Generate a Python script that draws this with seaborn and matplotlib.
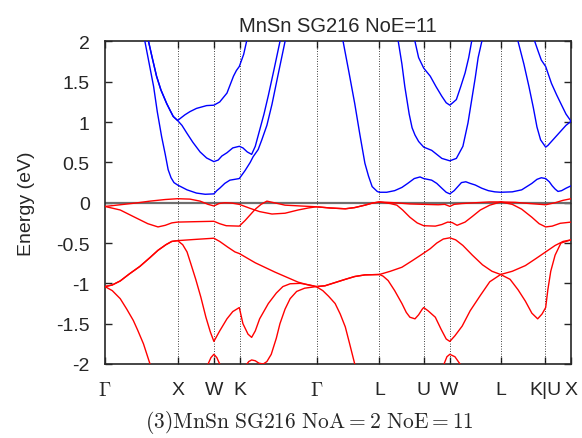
import numpy as np
import pandas as pd
import matplotlib
matplotlib.use("Agg")
import matplotlib.pyplot as plt
import seaborn as sns
from matplotlib.ticker import FormatStrFormatter

# k-path (cumulative distance, units of 2pi/a) and labels
sym_labels = [r"$\Gamma$", "X", "W", "K", r"$\Gamma$", "L", "U", "W", "L", "K|U", "X"]
sym_k = [0.0, 1.0, 1.5, 1.854, 2.914, 3.780, 4.392, 4.746, 5.453, 6.066, 6.419]
e_ticks = [-2, -1.5, -1, -0.5, 0, 0.5, 1, 1.5, 2]

# occupied bands (red)
v1_k = [0.00, 0.21, 0.41, 0.62, 0.83, 1.00, 1.17, 1.31, 1.42, 1.50, 1.57, 1.65, 1.75, 1.85, 2.00,
        2.13, 2.30, 2.48, 2.66, 2.80, 2.91, 3.10, 3.31, 3.44, 3.58, 3.68, 3.78, 3.99, 4.20, 4.39,
        4.59, 4.68, 4.75, 4.81, 4.92, 5.10, 5.30, 5.45, 5.65, 5.85, 6.07, 6.20, 6.31, 6.42]
v1_e = [-0.046, -0.025, -0.005, 0.02, 0.04, 0.05, 0.045, 0.02, -0.02, -0.04, -0.01, 0.0, -0.005,
        -0.02, -0.07, -0.11, -0.14, -0.13, -0.09, -0.065, -0.05, -0.065, -0.075, -0.06, -0.03,
        -0.005, 0.01, 0.0, -0.015, -0.02, -0.025, -0.02, -0.045, -0.02, -0.01, 0.0, 0.01, 0.01,
        0.005, -0.01, -0.025, 0.0, 0.03, 0.05]

v2_k = [0.00, 0.21, 0.41, 0.59, 0.73, 0.83, 0.92, 1.00, 1.24, 1.50, 1.58, 1.67, 1.85, 1.93, 2.00,
        2.07, 2.15, 2.23, 2.33, 2.48, 2.69, 2.91, 3.10, 3.31, 3.44, 3.58, 3.68, 3.78, 3.93, 4.02,
        4.10, 4.20, 4.30, 4.39, 4.55, 4.64, 4.72, 4.78, 4.85, 4.96, 5.06, 5.17, 5.30, 5.45, 5.61,
        5.74, 5.88, 5.98, 6.07, 6.16, 6.27, 6.42]
v2_e = [-0.046, -0.09, -0.18, -0.26, -0.30, -0.28, -0.25, -0.24, -0.235, -0.23, -0.26, -0.285,
        -0.29, -0.22, -0.15, -0.08, -0.02, 0.02, 0.0, -0.03, -0.04, -0.05, -0.065, -0.075, -0.06,
        -0.03, -0.005, 0.01, -0.01, -0.03, -0.09, -0.18, -0.25, -0.285, -0.29, -0.27, -0.24,
        -0.245, -0.28, -0.24, -0.17, -0.09, -0.03, 0.01, -0.02, -0.08, -0.18, -0.26, -0.30,
        -0.29, -0.255, -0.24]

v3_k = [0.00, 0.10, 0.21, 0.34, 0.48, 0.62, 0.73, 0.84, 0.92, 1.00, 1.24, 1.50, 1.58, 1.69, 1.79,
        1.85, 2.07, 2.34, 2.66, 2.80, 2.91, 3.03, 3.17, 3.31, 3.44, 3.58, 3.78, 3.93, 4.09, 4.23,
        4.34, 4.39, 4.48, 4.57, 4.66, 4.75, 4.83, 4.93, 5.06, 5.20, 5.33, 5.45, 5.61, 5.79, 5.94,
        6.07, 6.20, 6.31, 6.42]
v3_e = [-1.04, -1.02, -0.97, -0.88, -0.79, -0.68, -0.59, -0.52, -0.48, -0.47, -0.455, -0.44,
        -0.48, -0.55, -0.61, -0.63, -0.745, -0.86, -0.985, -1.02, -1.04, -1.03, -0.99, -0.95,
        -0.915, -0.895, -0.89, -0.85, -0.80, -0.72, -0.655, -0.625, -0.57, -0.50, -0.45, -0.435,
        -0.46, -0.53, -0.65, -0.77, -0.85, -0.89, -0.85, -0.78, -0.69, -0.61, -0.53, -0.48, -0.46]

v4_k = [0.00, 0.10, 0.21, 0.34, 0.48, 0.62, 0.73, 0.84, 0.92, 1.00, 1.07, 1.13, 1.18, 1.25, 1.32,
        1.39, 1.45, 1.50, 1.58, 1.68, 1.76, 1.85, 1.90, 1.97, 2.02, 2.07, 2.13, 2.25, 2.36, 2.45,
        2.55, 2.69, 2.82, 2.91, 3.03, 3.17, 3.31, 3.44, 3.58, 3.78, 3.83, 3.90, 3.99, 4.09, 4.15,
        4.20, 4.27, 4.32, 4.37, 4.39, 4.45, 4.55, 4.63, 4.70, 4.75, 4.82, 4.92, 5.03, 5.17, 5.30,
        5.45, 5.58, 5.69, 5.79, 5.88, 5.96, 6.02, 6.07, 6.10, 6.14, 6.20, 6.28, 6.42]
v4_e = [-1.04, -1.02, -0.97, -0.88, -0.79, -0.68, -0.59, -0.52, -0.48, -0.47, -0.52, -0.61,
        -0.75, -0.95, -1.17, -1.42, -1.60, -1.72, -1.59, -1.44, -1.35, -1.30, -1.50, -1.63, -1.67,
        -1.59, -1.44, -1.25, -1.12, -1.04, -1.005, -1.0, -1.02, -1.04, -1.03, -0.99, -0.95,
        -0.915, -0.895, -0.89, -0.91, -0.965, -1.09, -1.25, -1.36, -1.42, -1.44, -1.39, -1.32,
        -1.30, -1.34, -1.42, -1.57, -1.69, -1.72, -1.65, -1.53, -1.34, -1.15, -0.98, -0.89,
        -0.95, -1.08, -1.22, -1.37, -1.44, -1.38, -1.30, -1.08, -0.85, -0.65, -0.50, -0.46]

v5_k = [0.00, 0.10, 0.21, 0.30, 0.39, 0.45, 0.53, 0.62, 0.70, 1.17, 1.38, 1.42, 1.46, 1.50, 1.54,
        1.58, 1.67, 1.86, 1.94, 1.98, 2.02, 2.07, 2.12, 2.18, 2.23, 2.29, 2.36, 2.41, 2.48, 2.55,
        2.64, 2.75, 2.91, 3.00, 3.08, 3.17, 3.24, 3.31, 3.37, 3.44, 3.51, 4.48, 4.61, 4.67, 4.71,
        4.75, 4.82, 4.89, 4.99, 6.42]
v5_e = [-1.04, -1.09, -1.19, -1.32, -1.46, -1.58, -1.75, -2.0, -2.25, -2.4, -2.1, -2.0, -1.92,
        -1.88, -1.92, -2.0, -2.15, -2.1, -2.02, -1.97, -1.95, -1.96, -1.99, -2.0, -1.97, -1.88,
        -1.68, -1.50, -1.32, -1.19, -1.10, -1.06, -1.04, -1.09, -1.16, -1.25, -1.38, -1.54, -1.75,
        -2.0, -2.25, -2.3, -2.1, -2.0, -1.91, -1.88, -1.91, -2.0, -2.2, -2.4]

# empty bands (blue)
c1_k = [0.45, 0.55, 0.61, 0.67, 0.72, 0.78, 0.83, 0.87, 0.91, 0.95, 1.00, 1.13, 1.26, 1.38, 1.50,
        1.54, 1.58, 1.65, 1.72, 1.85, 1.93, 2.00, 2.04, 2.11, 2.16, 2.23, 2.30, 2.38, 2.48, 2.55,
        3.21, 3.28, 3.36, 3.44, 3.51, 3.58, 3.63, 3.68, 3.75, 3.78, 3.88, 3.99, 4.09, 4.17, 4.26,
        4.34, 4.39, 4.50, 4.57, 4.64, 4.70, 4.75, 4.81, 4.86, 4.91, 4.97, 5.03, 5.10, 5.19, 5.28,
        5.37, 5.45, 5.61, 5.74, 5.81, 5.88, 5.95, 6.01, 6.07, 6.12, 6.16, 6.20, 6.24, 6.29, 6.35,
        6.42]
c1_e = [2.45, 2.0, 1.72, 1.44, 1.13, 0.82, 0.60, 0.41, 0.31, 0.25, 0.22, 0.16, 0.12, 0.105, 0.11,
        0.15, 0.18, 0.24, 0.28, 0.30, 0.40, 0.50, 0.57, 0.66, 0.78, 0.96, 1.22, 1.57, 2.0, 2.35,
        2.4, 2.0, 1.62, 1.23, 0.85, 0.49, 0.33, 0.20, 0.14, 0.13, 0.13, 0.15, 0.19, 0.24, 0.30,
        0.32, 0.30, 0.28, 0.24, 0.18, 0.13, 0.11, 0.15, 0.20, 0.25, 0.26, 0.24, 0.22, 0.18, 0.15,
        0.135, 0.13, 0.135, 0.16, 0.20, 0.24, 0.29, 0.31, 0.30, 0.26, 0.21, 0.17, 0.14, 0.15, 0.18,
        0.21]

c2_k = [0.48, 0.60, 0.65, 0.71, 0.77, 0.85, 0.90, 0.94, 1.00, 1.06, 1.13, 1.21, 1.31, 1.40, 1.50,
        1.56, 1.61, 1.68, 1.76, 1.85, 1.90, 1.96, 2.02, 2.07, 2.13, 2.19, 2.25, 2.33, 2.41, 2.48,
        3.93, 4.04, 4.09, 4.13, 4.19, 4.23, 4.27, 4.32, 4.39, 4.50, 4.57, 4.64, 4.75, 4.84, 4.93,
        5.00, 5.05, 5.10, 5.14, 5.19, 5.28, 5.61, 5.69, 5.77, 5.84, 5.90, 5.95, 6.00, 6.07, 6.10,
        6.15, 6.21, 6.29, 6.35, 6.42]
c2_e = [2.4, 2.0, 1.80, 1.57, 1.40, 1.23, 1.14, 1.07, 1.02, 0.96, 0.86, 0.75, 0.63, 0.555, 0.51,
        0.53, 0.58, 0.62, 0.68, 0.70, 0.68, 0.63, 0.60, 0.70, 0.90, 1.10, 1.33, 1.66, 2.0, 2.3,
        2.5, 2.0, 1.72, 1.44, 1.10, 0.93, 0.84, 0.76, 0.69, 0.65, 0.60, 0.55, 0.52, 0.55, 0.70,
        0.99, 1.27, 1.55, 1.80, 2.0, 2.4, 2.4, 2.0, 1.72, 1.44, 1.18, 0.94, 0.78, 0.69, 0.71,
        0.76, 0.82, 0.90, 0.96, 1.01]

c3_k = [0.48, 0.60, 0.65, 0.71, 0.77, 0.85, 0.90, 0.94, 1.00, 1.10, 1.17, 1.26, 1.40, 1.50, 1.58,
        1.68, 1.77, 1.81, 1.85, 1.91, 1.95, 2.02, 4.20, 4.27, 4.32, 4.39, 4.48, 4.56, 4.64, 4.70,
        4.75, 4.79, 4.84, 4.90, 4.96, 5.01, 5.05, 5.11, 5.83, 5.92, 5.97, 6.01, 6.07, 6.15, 6.22,
        6.29, 6.35, 6.42]
c3_e = [2.4, 2.0, 1.80, 1.57, 1.40, 1.23, 1.14, 1.07, 1.02, 1.09, 1.13, 1.17, 1.205, 1.21, 1.25,
        1.36, 1.57, 1.64, 1.69, 1.84, 2.0, 2.3, 2.4, 2.0, 1.80, 1.67, 1.57, 1.44, 1.32, 1.24,
        1.21, 1.24, 1.28, 1.44, 1.61, 1.80, 2.0, 2.3, 2.4, 2.0, 1.87, 1.77, 1.69, 1.48, 1.34,
        1.21, 1.10, 1.01]

bands = {
    "v1": (v1_k, v1_e, "occ"), "v2": (v2_k, v2_e, "occ"), "v3": (v3_k, v3_e, "occ"),
    "v4": (v4_k, v4_e, "occ"), "v5": (v5_k, v5_e, "occ"),
    "c1": (c1_k, c1_e, "emp"), "c2": (c2_k, c2_e, "emp"), "c3": (c3_k, c3_e, "emp"),
}
frames = []
for name, (ks, es, kind) in bands.items():
    d = pd.DataFrame({"k": ks, "E": es})
    d["band"] = name
    d["kind"] = kind
    frames.append(d)
df = pd.concat(frames, ignore_index=True)

sns.set_style("ticks")
plt.rcParams["font.family"] = ["Liberation Sans", "DejaVu Sans"]
plt.rcParams["mathtext.fontset"] = "cm"
plt.rcParams["axes.unicode_minus"] = False

fig = plt.figure(figsize=(5.82, 4.39), dpi=100)
ax = fig.add_axes([0.1804, 0.1686, 0.8007, 0.7346])

# fermi level + high symmetry lines
ax.axhline(0, color="#6e6e6e", lw=1.6, zorder=1)
for k in sym_k[1:-1]:
    ax.axvline(k, color="black", lw=0.6, ls=(0, (1, 2)), zorder=1)

sns.lineplot(data=df, x="k", y="E", hue="kind", units="band", estimator=None, sort=False,
             palette={"occ": "#ff0000", "emp": "#0000ff"}, linewidth=1.0, legend=False,
             ax=ax, zorder=3)

ax.set_xlim(sym_k[0], sym_k[-1])
ax.set_ylim(-2, 2)
ax.set_xticks(sym_k)
ax.set_xticklabels(sym_labels)
ax.set_yticks(e_ticks)
ax.yaxis.set_major_formatter(FormatStrFormatter("%g"))
ax.tick_params(direction="in", top=True, right=True, length=5, width=1, labelsize=14)
ax.tick_params(axis="x", pad=12)
ax.tick_params(axis="y", pad=11)
ax.set_xlabel("")
ax.set_ylabel("Energy (eV)", fontsize=14, labelpad=15)
ax.set_title("MnSn SG216 NoE=11", fontsize=14.5, pad=7.5)
for s in ax.spines.values():
    s.set_linewidth(1.2)

fig.text(0.531, 0.024, r"$\mathrm{(3)MnSn\ SG216\ NoA=2\ NoE=11}$",
         ha="center", va="baseline", fontsize=15.5)

fig.savefig("out.png", dpi=100)
